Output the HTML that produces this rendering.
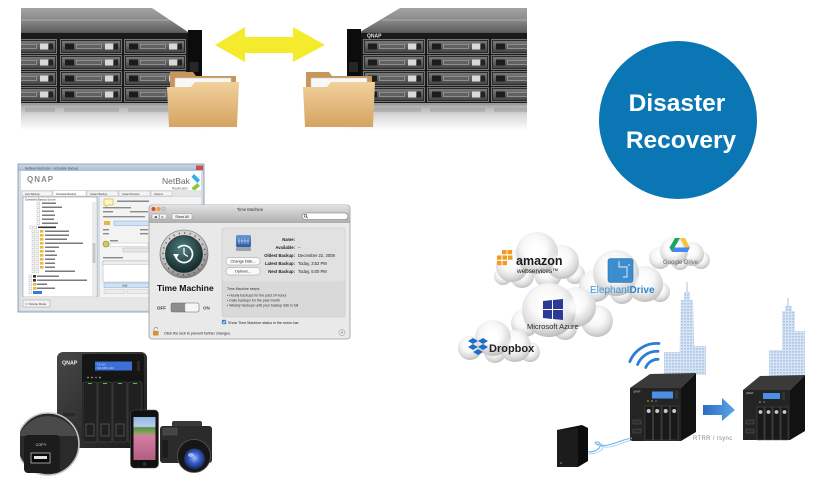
<!DOCTYPE html>
<html><head><meta charset="utf-8">
<style>
html,body{margin:0;padding:0;background:#fff;}
svg{display:block;}
text{font-family:"Liberation Sans",sans-serif;}
</style></head><body>
<svg width="824" height="493" viewBox="0 0 824 493" xmlns="http://www.w3.org/2000/svg">
<defs>
 <linearGradient id="topg" x1="0" y1="0" x2="0" y2="1"><stop offset="0" stop-color="#a3a3a3"/><stop offset="0.5" stop-color="#8a8a8a"/><stop offset="1" stop-color="#5e5e5e"/></linearGradient>
 <linearGradient id="bayg" x1="0" y1="0" x2="0" y2="1"><stop offset="0" stop-color="#7a7a7a"/><stop offset="1" stop-color="#474747"/></linearGradient>
 <linearGradient id="refl" x1="0" y1="0" x2="0" y2="1"><stop offset="0" stop-color="#a9a9a9"/><stop offset="0.4" stop-color="#d8d8d8"/><stop offset="1" stop-color="#ffffff"/></linearGradient>
 <linearGradient id="foldg" x1="0" y1="0" x2="0" y2="1"><stop offset="0" stop-color="#f1d19c"/><stop offset="1" stop-color="#d4a462"/></linearGradient>
 <linearGradient id="w7" x1="0" y1="0" x2="0" y2="1"><stop offset="0" stop-color="#c9d7e6"/><stop offset="1" stop-color="#a8bcd2"/></linearGradient>
 <linearGradient id="tmhead" x1="0" y1="0" x2="0" y2="1"><stop offset="0" stop-color="#e2e2e2"/><stop offset="1" stop-color="#b1b1b1"/></linearGradient>
 <radialGradient id="silv" cx="0.45" cy="0.35" r="0.65"><stop offset="0" stop-color="#f4f4f4"/><stop offset="0.7" stop-color="#c4c4c4"/><stop offset="1" stop-color="#7d7d7d"/></radialGradient>
 <radialGradient id="teal" cx="0.45" cy="0.35" r="0.7"><stop offset="0" stop-color="#517f80"/><stop offset="1" stop-color="#0d2222"/></radialGradient>
 <linearGradient id="nasg" x1="0" y1="0" x2="1" y2="1"><stop offset="0" stop-color="#474747"/><stop offset="1" stop-color="#1c1c1c"/></linearGradient>
 <radialGradient id="lens" cx="0.5" cy="0.45" r="0.6"><stop offset="0" stop-color="#9fc0ff"/><stop offset="0.4" stop-color="#3e63cf"/><stop offset="1" stop-color="#0b1740"/></radialGradient>
 <linearGradient id="screen" x1="0" y1="0" x2="0" y2="1"><stop offset="0" stop-color="#8db7e4"/><stop offset="0.22" stop-color="#b7d0ea"/><stop offset="0.25" stop-color="#5f8f4a"/><stop offset="0.38" stop-color="#86a65c"/><stop offset="0.42" stop-color="#d37fa2"/><stop offset="1" stop-color="#b45d83"/></linearGradient>
 <linearGradient id="barrow" x1="0" y1="0" x2="1" y2="0"><stop offset="0" stop-color="#2a6dbd"/><stop offset="1" stop-color="#5aa6ea"/></linearGradient>
 <pattern id="win" width="3" height="3" patternUnits="userSpaceOnUse"><rect width="3" height="3" fill="#d6e4f5"/><rect x="0" y="0" width="2" height="1.6" fill="#b0c8e6"/></pattern>
 <linearGradient id="diskg" x1="0" y1="0" x2="0" y2="1"><stop offset="0" stop-color="#6a9ad6"/><stop offset="1" stop-color="#2b5aa3"/></linearGradient>
 <radialGradient id="cg" cx="0.45" cy="0.36" r="0.66"><stop offset="0" stop-color="#ffffff"/><stop offset="0.45" stop-color="#f7f7f7"/><stop offset="0.78" stop-color="#dadada"/><stop offset="1" stop-color="#b9b9b9"/></radialGradient>
 <filter id="bl" x="-30%" y="-30%" width="160%" height="160%"><feGaussianBlur stdDeviation="2.5"/></filter>
 <clipPath id="lclip"><rect x="21" y="0" width="181" height="140"/></clipPath>
 <clipPath id="rclip"><rect x="347" y="0" width="180" height="140"/></clipPath>
 <clipPath id="uclip"><rect x="20" y="400" width="80" height="93"/></clipPath>
 <g id="bay">
  <rect x="0.5" y="0.5" width="61" height="14" fill="#2c2c2c" stroke="#8a8a8a" stroke-width="0.8"/>
  <rect x="2" y="2" width="58" height="11" fill="url(#bayg)"/>
  <rect x="5" y="4.5" width="9" height="6" fill="#1c1c1c"/>
  <rect x="16" y="5" width="26" height="5" fill="#8e8e8e"/>
  <rect x="17" y="6" width="24" height="3" fill="#4f4f4f" opacity="0.7"/>
  <rect x="45" y="4.5" width="8" height="6" fill="#d9d9d9"/>
  <rect x="54" y="4.5" width="4" height="6" fill="#222"/>
 </g>
 <g id="folder">
  <path d="M3,0 H26 L29,4 H69 V50 H3 Z" fill="#c8955a"/>
  <rect x="8" y="6" width="56" height="13" fill="#f7f7f7" stroke="#c9c9c9" stroke-width="0.5"/>
  <path d="M0,15 H24 L28,10 H72 L70,55 H2 Z" fill="url(#foldg)"/>
 </g>
</defs>

<rect width="824" height="493" fill="#fff"/>

<!-- ===== Left rack server ===== -->
<g clip-path="url(#lclip)">
 <polygon points="21,8 152,8 188,32 21,32" fill="url(#topg)"/>
 <line x1="21" y1="20" x2="170" y2="20" stroke="#b9b9b9" stroke-width="0.8"/>
 <rect x="21" y="32" width="170" height="72" fill="#1a1a1a"/>
 <line x1="21" y1="32.5" x2="190" y2="32.5" stroke="#6a6a6a" stroke-width="0.8"/>
 <use href="#bay" x="-5" y="39"/><use href="#bay" x="60" y="39"/><use href="#bay" x="124" y="39"/>
 <use href="#bay" x="-5" y="55"/><use href="#bay" x="60" y="55"/><use href="#bay" x="124" y="55"/>
 <use href="#bay" x="-5" y="71"/><use href="#bay" x="60" y="71"/><use href="#bay" x="124" y="71"/>
 <use href="#bay" x="-5" y="87"/><use href="#bay" x="60" y="87"/><use href="#bay" x="124" y="87"/>
 <rect x="188" y="30" width="14" height="74" fill="#0c0c0c"/>
 <rect x="189.5" y="62" width="9" height="10" rx="1" fill="#262626"/>
 <rect x="21" y="103" width="181" height="2" fill="#9a9a9a"/>
 <rect x="21" y="105" width="181" height="25" fill="url(#refl)"/>
 <g opacity="0.25"><rect x="25" y="108" width="30" height="4" fill="#777"/><rect x="64" y="108" width="55" height="4" fill="#777"/><rect x="128" y="108" width="55" height="4" fill="#777"/></g>
</g>

<!-- ===== Right rack server ===== -->
<g clip-path="url(#rclip)">
 <polygon points="400,8 527,8 527,32 360,32" fill="url(#topg)"/>
 <line x1="382" y1="20" x2="527" y2="20" stroke="#b9b9b9" stroke-width="0.8"/>
 <rect x="347" y="32" width="180" height="72" fill="#1a1a1a"/>
 <line x1="355" y1="32.5" x2="527" y2="32.5" stroke="#6a6a6a" stroke-width="0.8"/>
 <rect x="347" y="29" width="14" height="75" fill="#0c0c0c"/>
 <rect x="349" y="62" width="9" height="10" rx="1" fill="#262626"/>
 <text x="367" y="37.6" font-size="5" font-weight="bold" fill="#e6e6e6">QNAP</text>
 <use href="#bay" x="363" y="39"/><use href="#bay" x="427" y="39"/><use href="#bay" x="491" y="39"/>
 <use href="#bay" x="363" y="55"/><use href="#bay" x="427" y="55"/><use href="#bay" x="491" y="55"/>
 <use href="#bay" x="363" y="71"/><use href="#bay" x="427" y="71"/><use href="#bay" x="491" y="71"/>
 <use href="#bay" x="363" y="87"/><use href="#bay" x="427" y="87"/><use href="#bay" x="491" y="87"/>
 <rect x="347" y="103" width="180" height="2" fill="#9a9a9a"/>
 <rect x="347" y="105" width="180" height="25" fill="url(#refl)"/>
 <g opacity="0.25"><rect x="366" y="108" width="55" height="4" fill="#777"/><rect x="430" y="108" width="55" height="4" fill="#777"/><rect x="494" y="108" width="33" height="4" fill="#777"/></g>
</g>

<!-- yellow double arrow -->
<polygon points="215,45 245,27 245,37 293,37 293,27 325,45 293,62 293,53 245,53 245,62" fill="#f3eb2c"/>

<!-- folders -->
<use href="#folder" x="167" y="72"/>
<use href="#folder" x="303" y="72"/>

<!-- ===== Disaster Recovery circle ===== -->
<circle cx="678" cy="120" r="79" fill="#0a77b4"/>
<text x="677" y="111" text-anchor="middle" font-size="24.5" font-weight="bold" fill="#fff">Disaster</text>
<text x="681" y="148" text-anchor="middle" font-size="24.5" font-weight="bold" fill="#fff">Recovery</text>

<!-- ===== NetBak Replicator window ===== -->
<rect x="18" y="164" width="186" height="148" fill="#d3dde8" stroke="#7f8fa3" stroke-width="0.8"/>
<rect x="18.4" y="164.4" width="185.2" height="6.5" fill="url(#w7)"/>
<text x="25" y="169.4" font-size="3.2" fill="#556">NetBak Replicator - Schedule Backup</text>
<rect x="196" y="165.5" width="7" height="4.5" fill="#c9514a"/>
<rect x="21" y="171" width="180" height="19" fill="#fff"/>
<text x="27" y="182" font-size="8" font-weight="bold" fill="#8a8a8a" letter-spacing="1">QNAP</text>
<text x="162" y="184" font-size="8.5" fill="#6a6a6a">NetBak</text>
<text x="172" y="189.3" font-size="3.5" fill="#666">Replicator</text>
<polygon points="194,174 200,180 197.5,183 191.5,177" fill="#2fb0e0"/>
<polygon points="197.5,183 200,186 194,191 191.5,188" fill="#8dc63f"/>
<rect x="21" y="190" width="180" height="6" fill="#e4e4e4"/>
<g fill="#f4f4f4" stroke="#9a9a9a" stroke-width="0.3">
 <rect x="22" y="191" width="30" height="5"/><rect x="53" y="190.5" width="33" height="5.5" fill="#fff"/><rect x="87" y="191" width="31" height="5"/><rect x="119" y="191" width="31" height="5"/><rect x="151" y="191" width="21" height="5"/>
</g>
<g font-size="2.6" fill="#333"><text x="25" y="194.8">Auto Backup</text><text x="56" y="194.8">Schedule Backup</text><text x="90" y="194.8">Instant Backup</text><text x="122" y="194.8">Instant Restore</text><text x="154" y="194.8">Options</text></g>
<rect x="23" y="197" width="74" height="100" fill="#fff" stroke="#8a8a8a" stroke-width="0.5"/>
<text x="25" y="200.5" font-size="2.6" fill="#333">Scheduled Backup Source</text>
<rect x="92" y="202" width="4" height="94" fill="#ececec"/>
<rect x="92.5" y="243" width="3" height="20" fill="#c8c8c8"/>
<!-- tree rows -->
<g stroke="#888" stroke-width="0.3" fill="#fff">
 <rect x="37" y="202" width="2.6" height="2.6"/><rect x="37" y="206" width="2.6" height="2.6"/><rect x="37" y="210" width="2.6" height="2.6"/><rect x="37" y="214" width="2.6" height="2.6"/><rect x="37" y="218" width="2.6" height="2.6"/><rect x="37" y="222" width="2.6" height="2.6"/>
 <rect x="30" y="226" width="2.6" height="2.6"/><rect x="34" y="226" width="2.6" height="2.6"/>
 <rect x="32" y="230" width="2.6" height="2.6"/><rect x="32" y="234" width="2.6" height="2.6"/><rect x="32" y="238" width="2.6" height="2.6"/><rect x="32" y="242" width="2.6" height="2.6"/><rect x="32" y="246" width="2.6" height="2.6"/><rect x="32" y="250" width="2.6" height="2.6"/><rect x="32" y="254" width="2.6" height="2.6"/><rect x="32" y="258" width="2.6" height="2.6"/><rect x="32" y="262" width="2.6" height="2.6"/><rect x="32" y="266" width="2.6" height="2.6"/><rect x="32" y="270" width="2.6" height="2.6"/>
 <rect x="36" y="230" width="2.6" height="2.6"/><rect x="36" y="234" width="2.6" height="2.6"/><rect x="36" y="238" width="2.6" height="2.6"/><rect x="36" y="242" width="2.6" height="2.6"/><rect x="36" y="246" width="2.6" height="2.6"/><rect x="36" y="250" width="2.6" height="2.6"/><rect x="36" y="254" width="2.6" height="2.6"/><rect x="36" y="258" width="2.6" height="2.6"/><rect x="36" y="262" width="2.6" height="2.6"/><rect x="36" y="266" width="2.6" height="2.6"/><rect x="36" y="270" width="2.6" height="2.6"/>
 <rect x="29" y="275" width="2.6" height="2.6"/><rect x="29" y="279" width="2.6" height="2.6"/><rect x="29" y="283" width="2.6" height="2.6"/><rect x="29" y="287" width="2.6" height="2.6"/><rect x="29" y="291" width="2.6" height="2.6"/>
</g>
<g fill="#e9b73a">
 <rect x="40" y="230" width="3.5" height="2.6"/><rect x="40" y="234" width="3.5" height="2.6"/><rect x="40" y="238" width="3.5" height="2.6"/><rect x="40" y="242" width="3.5" height="2.6"/><rect x="40" y="246" width="3.5" height="2.6"/><rect x="40" y="250" width="3.5" height="2.6"/><rect x="40" y="254" width="3.5" height="2.6"/><rect x="40" y="258" width="3.5" height="2.6"/><rect x="40" y="262" width="3.5" height="2.6"/><rect x="40" y="266" width="3.5" height="2.6"/>
 <rect x="33" y="283" width="3.5" height="2.6"/><rect x="33" y="287" width="3.5" height="2.6"/>
</g>
<rect x="33" y="275" width="3" height="2.6" fill="#333"/><rect x="33" y="279" width="3" height="2.6" fill="#333"/>
<g fill="#7a7a7a">
 <rect x="42" y="202.5" width="14" height="1.5"/><rect x="42" y="206.5" width="20" height="1.5"/><rect x="42" y="210.5" width="12" height="1.5"/><rect x="42" y="214.5" width="13" height="1.5"/><rect x="42" y="218.5" width="12" height="1.5"/><rect x="42" y="222.5" width="16" height="1.5"/>
 <rect x="38" y="226.5" width="18" height="1.6" fill="#333"/>
 <rect x="45" y="230.5" width="24" height="1.5"/><rect x="45" y="234.5" width="24" height="1.5"/><rect x="45" y="238.5" width="22" height="1.5"/><rect x="45" y="242.5" width="38" height="1.5"/><rect x="45" y="246.5" width="14" height="1.5"/><rect x="45" y="250.5" width="10" height="1.5"/><rect x="45" y="254.5" width="12" height="1.5"/><rect x="45" y="258.5" width="10" height="1.5"/><rect x="45" y="262.5" width="10" height="1.5"/><rect x="45" y="266.5" width="10" height="1.5"/><rect x="45" y="270.5" width="30" height="1.5"/>
 <rect x="37" y="275.5" width="22" height="1.5"/><rect x="37" y="279.5" width="50" height="1.5"/><rect x="37" y="283.5" width="10" height="1.5"/><rect x="37" y="287.5" width="18" height="1.5"/>
</g>
<rect x="33" y="291" width="9" height="3" fill="#3a7bd5"/>
<!-- right panel of NetBak -->
<rect x="100" y="197" width="101" height="100" fill="#f3f3f3"/>
<path d="M104,199 h9 v6 h-5 l-2,2 v-2 h-2 z" fill="#fff3bf" stroke="#c9a200" stroke-width="0.5"/>
<g fill="#8a8a8a"><rect x="117" y="200.5" width="32" height="1.5"/><rect x="103" y="207" width="28" height="1.4"/><rect x="103" y="211" width="10" height="1.4"/><rect x="130" y="211" width="18" height="1.4"/><rect x="103" y="216" width="42" height="1.4"/><rect x="103" y="229" width="6" height="1.4"/><rect x="140" y="229" width="8" height="1.4"/><rect x="103" y="233" width="6" height="1.4"/><rect x="140" y="233" width="8" height="1.4"/><rect x="110" y="240" width="8" height="1.4"/><rect x="103" y="257" width="20" height="1.4"/></g>
<rect x="104" y="221" width="6" height="4" fill="#e9b73a"/>
<rect x="114" y="221" width="35" height="4.5" fill="#cfe3f7" stroke="#6d9fd1" stroke-width="0.4"/>
<circle cx="106" cy="244" r="3" fill="#e6c24b" stroke="#6a9a3b" stroke-width="0.6"/>
<rect x="110" y="243" width="38" height="3.5" fill="#fff" stroke="#999" stroke-width="0.3"/>
<rect x="123" y="248" width="26" height="4" fill="#e8e8e8" stroke="#888" stroke-width="0.3"/>
<rect x="103" y="261" width="46" height="21" fill="#fff" stroke="#999" stroke-width="0.4"/>
<rect x="103" y="261" width="46" height="3.5" fill="#eee" stroke="#999" stroke-width="0.3"/>
<rect x="104" y="283" width="45" height="4.5" fill="#cfe3f7" stroke="#6d9fd1" stroke-width="0.4"/>
<text x="122" y="286.7" font-size="3" fill="#333">Add</text>
<rect x="104" y="289.5" width="21" height="4" fill="#ececec" stroke="#aaa" stroke-width="0.3"/>
<rect x="127" y="289.5" width="21" height="4" fill="#ececec" stroke="#aaa" stroke-width="0.3"/>
<rect x="21" y="297" width="180" height="13" fill="#e6e6e6"/>
<rect x="23" y="300" width="27" height="7" fill="#f2f2f2" stroke="#888" stroke-width="0.4"/>
<text x="25" y="304.8" font-size="2.9" fill="#333">&lt;&lt; Simple Mode</text>

<!-- ===== Time Machine window ===== -->
<rect x="149" y="205" width="201" height="134" rx="3" fill="#e9e9e9" stroke="#9a9a9a" stroke-width="0.8"/>
<path d="M149.4,222 V208 a3,3 0 0 1 3,-3 H346.6 a3,3 0 0 1 3,3 V222 Z" fill="url(#tmhead)"/>
<line x1="149.4" y1="222.3" x2="349.6" y2="222.3" stroke="#8a8a8a" stroke-width="0.6"/>
<circle cx="153.5" cy="209" r="2" fill="#e0443e"/><circle cx="158.5" cy="209" r="2" fill="#e8a531"/><circle cx="163.5" cy="209" r="2" fill="#c9c9c9" stroke="#999" stroke-width="0.3"/>
<text x="250" y="211" font-size="4.2" text-anchor="middle" fill="#333">Time Machine</text>
<rect x="152" y="214" width="7" height="5" rx="1" fill="#f1f1f1" stroke="#888" stroke-width="0.4"/>
<rect x="159.5" y="214" width="7" height="5" rx="1" fill="#f1f1f1" stroke="#888" stroke-width="0.4"/>
<text x="154" y="218" font-size="3.4" fill="#333">◀</text><text x="161.5" y="218" font-size="3.4" fill="#999">▶</text>
<rect x="172" y="213.5" width="20" height="6" rx="1.5" fill="#f1f1f1" stroke="#888" stroke-width="0.4"/>
<text x="182" y="217.8" font-size="3.5" text-anchor="middle" fill="#222">Show All</text>
<rect x="302" y="213" width="46" height="6.5" rx="3.2" fill="#fff" stroke="#6f6f6f" stroke-width="0.6"/>
<circle cx="305.5" cy="215.8" r="1.4" fill="none" stroke="#333" stroke-width="0.6"/><line x1="306.5" y1="216.8" x2="307.8" y2="218.2" stroke="#333" stroke-width="0.6"/>
<!-- right panel -->
<rect x="222" y="228" width="123" height="89" rx="2" fill="#d9d9d9" stroke="#c2c2c2" stroke-width="0.5"/>
<rect x="222.3" y="228.3" width="122.4" height="53" rx="2" fill="#e1e1e1"/>
<rect x="236" y="235" width="15" height="12" rx="1.5" fill="url(#diskg)"/>
<g stroke="#e6eefa" stroke-width="0.5"><line x1="239" y1="238" x2="239" y2="244"/><line x1="242" y1="238" x2="242" y2="244"/><line x1="245" y1="238" x2="245" y2="244"/><line x1="248" y1="238" x2="248" y2="244"/><line x1="238" y1="241" x2="249" y2="241"/></g>
<rect x="236" y="247" width="15" height="4" rx="1" fill="#9aa3ad"/>
<rect x="226" y="257.5" width="34" height="7.5" rx="3.5" fill="#fafafa" stroke="#999" stroke-width="0.5"/>
<text x="243" y="262.6" font-size="3.8" text-anchor="middle" fill="#222">Change Disk...</text>
<rect x="226" y="267.5" width="34" height="7.5" rx="3.5" fill="#fafafa" stroke="#999" stroke-width="0.5"/>
<text x="243" y="272.6" font-size="3.8" text-anchor="middle" fill="#222">Options...</text>
<g font-size="4.2" fill="#222">
 <text x="295" y="241" text-anchor="end" font-weight="bold">Name:</text>
 <text x="295" y="249" text-anchor="end" font-weight="bold">Available:</text><text x="298" y="249">--</text>
 <text x="295" y="257" text-anchor="end" font-weight="bold">Oldest Backup:</text><text x="298" y="257">December 22, 2008</text>
 <text x="295" y="265" text-anchor="end" font-weight="bold">Latest Backup:</text><text x="298" y="265">Today, 3:52 PM</text>
 <text x="295" y="273" text-anchor="end" font-weight="bold">Next Backup:</text><text x="298" y="273">Today, 5:00 PM</text>
</g>
<g font-size="3.5" fill="#333">
 <text x="227" y="290">Time Machine keeps:</text>
 <text x="227" y="296.5">• Hourly backups for the past 24 hours</text>
 <text x="227" y="301.5">• Daily backups for the past month</text>
 <text x="227" y="306.5">• Weekly backups until your backup disk is full</text>
</g>
<!-- clock icon -->
<circle cx="184" cy="254" r="24" fill="url(#silv)" stroke="#6a6a6a" stroke-width="0.6"/>
<circle cx="184" cy="254" r="21" fill="none" stroke="#4a4a4a" stroke-width="1.6" stroke-dasharray="1 4.5"/>
<circle cx="184" cy="254" r="18.5" fill="url(#teal)" stroke="#2b2b2b" stroke-width="0.8"/>
<path d="M178,248 A8.5,8.5 0 1 1 176,257" fill="none" stroke="#fff" stroke-width="1.7"/>
<polygon points="173,254 179,254 176,259" fill="#fff"/>
<line x1="184" y1="254" x2="184" y2="248" stroke="#fff" stroke-width="1.2"/>
<line x1="184" y1="254" x2="188" y2="256.5" stroke="#fff" stroke-width="1.2"/>
<text x="157" y="291" font-size="8.6" font-weight="bold" fill="#111">Time Machine</text>
<text x="157" y="309.5" font-size="4.5" font-weight="bold" fill="#333">OFF</text>
<rect x="171" y="303" width="28" height="9" rx="1.5" fill="#8c8c8c" stroke="#666" stroke-width="0.5"/>
<rect x="185" y="303.3" width="13.7" height="8.4" rx="1.2" fill="#f7f7f7" stroke="#aaa" stroke-width="0.3"/>
<text x="203" y="309.5" font-size="4.5" font-weight="bold" fill="#2f5b5b">ON</text>
<rect x="222" y="320" width="4" height="4" rx="0.6" fill="#4a7fd0" stroke="#2f5fa8" stroke-width="0.3"/>
<path d="M222.8,322 l1,1.2 l1.6,-2.4" fill="none" stroke="#fff" stroke-width="0.6"/>
<text x="228" y="323.8" font-size="3.7" fill="#222">Show Time Machine status in the menu bar</text>
<rect x="153" y="331" width="5.5" height="4.5" fill="#d9902b"/>
<path d="M154,331 v-2 a1.7,1.7 0 0 1 3.4,0" fill="none" stroke="#888" stroke-width="0.6"/>
<text x="164" y="334.5" font-size="3.7" fill="#222">Click the lock to prevent further changes.</text>
<circle cx="342" cy="332.5" r="3" fill="#ececec" stroke="#888" stroke-width="0.5"/>
<text x="342" y="334.2" font-size="4" text-anchor="middle" fill="#6a3fa0" font-weight="bold">?</text>

<!-- ===== Bottom-left NAS and devices ===== -->
<rect x="57" y="352" width="90" height="96" rx="6" fill="url(#nasg)"/>
<rect x="82" y="354" width="62" height="88" rx="2" fill="#151515"/>
<text x="62" y="364.5" font-size="5.3" font-weight="bold" fill="#eee">QNAP</text>
<rect x="95" y="361.5" width="37" height="9" fill="#3c6fd8"/>
<text x="97" y="365.4" font-size="2.6" fill="#cfe0ff">TS-412</text><text x="97" y="369" font-size="2.6" fill="#cfe0ff">192.168.1.100</text>
<rect x="137" y="361" width="3" height="10" fill="#2a2a2a"/>
<circle cx="88" cy="377.5" r="0.9" fill="#4ec24e"/><circle cx="92" cy="377.5" r="0.9" fill="#f08a2a"/><circle cx="96" cy="377.5" r="0.9" fill="#3c8ae0"/><circle cx="100" cy="377.5" r="0.9" fill="#f08a2a"/>
<g fill="#202020" stroke="#4e4e4e" stroke-width="0.6">
 <rect x="83" y="382" width="14" height="60" rx="1"/><rect x="98" y="382" width="14" height="60" rx="1"/><rect x="113" y="382" width="14" height="60" rx="1"/><rect x="128" y="382" width="14" height="60" rx="1"/>
</g>
<g fill="#4ec24e"><rect x="88" y="383" width="4" height="1"/><rect x="103" y="383" width="4" height="1"/><rect x="118" y="383" width="4" height="1"/><rect x="133" y="383" width="4" height="1"/></g>
<g fill="none" stroke="#5a5a5a" stroke-width="0.8">
 <rect x="86" y="424" width="8" height="12"/><rect x="101" y="424" width="8" height="12"/><rect x="116" y="424" width="8" height="12"/><rect x="131" y="424" width="8" height="12"/>
</g>
<rect x="62" y="412" width="14" height="5" fill="#2a2a2a" stroke="#555" stroke-width="0.4"/>
<!-- round USB copy device -->
<g clip-path="url(#uclip)">
 <circle cx="48" cy="444" r="31" fill="#2a2a2a" stroke="#c4c4c4" stroke-width="1.6"/>
 <path d="M19,436 A31,31 0 0 1 77,436 Z" fill="#4a4a4a"/>
 <rect x="24" y="435" width="36" height="38" rx="4" fill="#1c1c1c"/>
 <text x="41" y="446" font-size="3.8" fill="#ddd" text-anchor="middle">COPY</text>
 <rect x="31" y="453" width="19" height="10" fill="#0a0a0a" stroke="#bdbdbd" stroke-width="0.8"/>
 <rect x="34" y="456" width="13" height="3" fill="#e0e0e0"/>
</g>
<!-- phone -->
<rect x="130.5" y="410" width="28" height="58" rx="4" fill="#111" stroke="#555" stroke-width="0.5"/>
<rect x="133.5" y="417" width="22" height="43" fill="url(#screen)"/>
<circle cx="144.5" cy="464" r="1.8" fill="#333"/>
<!-- camera -->
<rect x="172" y="421" width="30" height="8" rx="2" fill="#3a3a3a"/>
<rect x="160" y="426" width="52" height="37" rx="3" fill="#2b2b2b"/>
<rect x="163" y="428" width="14" height="7" fill="#444" stroke="#666" stroke-width="0.4"/>
<rect x="162" y="440" width="6" height="18" fill="#1c1c1c"/>
<circle cx="194" cy="456" r="16.5" fill="#161616" stroke="#555" stroke-width="0.8"/>
<circle cx="194.5" cy="459" r="10.5" fill="url(#lens)"/>
<ellipse cx="191" cy="455" rx="3" ry="2" fill="#dfe9ff" opacity="0.6"/>

<!-- ===== Clouds ===== -->
<!-- Google Drive cloud -->
<g fill="url(#cg)"><circle cx="701" cy="260" r="9"/><circle cx="660" cy="258" r="11"/><circle cx="680" cy="261" r="9"/><circle cx="692" cy="254" r="12"/><circle cx="674" cy="251" r="14"/></g>
<g fill="#fff" filter="url(#bl)" opacity="0.8"><circle cx="674" cy="249" r="6"/></g>
<!-- Amazon cloud -->
<g fill="url(#cg)"><circle cx="503" cy="276" r="9"/><circle cx="575" cy="274" r="10"/><circle cx="522" cy="276" r="12"/><circle cx="548" cy="274" r="14"/><circle cx="512" cy="266" r="16"/><circle cx="562" cy="262" r="17"/><circle cx="537" cy="253" r="21"/></g>
<g fill="#fff" filter="url(#bl)" opacity="0.8"><circle cx="537" cy="254" r="10"/><circle cx="558" cy="262" r="7"/></g>
<!-- ElephantDrive cloud -->
<g fill="url(#cg)"><circle cx="585" cy="294" r="9"/><circle cx="660" cy="292" r="10"/><circle cx="622" cy="292" r="12"/><circle cx="595" cy="286" r="16"/><circle cx="645" cy="284" r="18"/><circle cx="616" cy="273" r="23"/></g>
<g fill="#fff" filter="url(#bl)" opacity="0.8"><circle cx="616" cy="273" r="11"/><circle cx="641" cy="283" r="7"/></g>
<!-- Azure cloud -->
<g fill="url(#cg)"><circle cx="525" cy="323" r="14"/><circle cx="565" cy="328" r="12"/><circle cx="597" cy="321" r="16"/><circle cx="576" cy="307" r="20"/><circle cx="549" cy="310" r="27"/></g>
<g fill="#fff" filter="url(#bl)" opacity="0.8"><circle cx="549" cy="309" r="13"/><circle cx="575" cy="306" r="8"/></g>
<!-- Dropbox cloud -->
<g fill="url(#cg)"><circle cx="470" cy="348" r="12"/><circle cx="530" cy="352" r="10"/><circle cx="495" cy="352" r="11"/><circle cx="515" cy="346" r="16"/><circle cx="493" cy="338" r="18"/></g>
<g fill="#fff" filter="url(#bl)" opacity="0.8"><circle cx="493" cy="338" r="8"/><circle cx="513" cy="345" r="6"/></g>

<!-- cloud logos -->
<g fill="#f29b1d">
 <rect x="502" y="250" width="4.5" height="4.2"/><rect x="507.5" y="250" width="4.5" height="4.2"/>
 <rect x="497" y="255.5" width="4.5" height="4.2"/><rect x="502.5" y="255.5" width="4.5" height="4.2"/><rect x="508" y="255.5" width="4.5" height="4.2"/>
 <rect x="497" y="261" width="4.5" height="4.2"/><rect x="502.5" y="261" width="4.5" height="4.2"/>
</g>
<text x="516" y="265" font-size="12.5" font-weight="bold" fill="#1a1a1a">amazon</text>
<text x="517" y="273" font-size="6.4" fill="#1a1a1a">webservices™</text>
<rect x="608" y="258.5" width="25" height="24" rx="2.5" fill="#3b8dcf" stroke="#2a6ea8" stroke-width="0.6"/>
<path d="M619,261 v6 h8 v10 h-4" fill="none" stroke="#e9f3fb" stroke-width="0.9"/>
<circle cx="629" cy="265" r="0.8" fill="#e9f3fb"/>
<text x="590" y="293" font-size="10" fill="#3f95d8">Elephant<tspan font-weight="bold" fill="#2f86cc">Drive</tspan></text>
<polygon points="675,238 680,238 672,252 669.5,247.5" fill="#1fa463"/>
<polygon points="680,238 685,238 690,247.5 685,247.5" fill="#f6c33a"/>
<polygon points="672,252 674.5,247.5 690,247.5 687.5,252" fill="#4688f4"/>
<text x="663" y="264" font-size="6" fill="#666">Google Drive</text>
<g fill="#2b3b95">
 <polygon points="543,301 552,300 552,309 543,309"/><polygon points="553,300 563,299 563,309 553,309"/>
 <polygon points="543,310 552,310 552,319 543,318"/><polygon points="553,310 563,310 563,320 553,319"/>
</g>
<text x="527" y="329" font-size="7.5" fill="#2a2a2a">Microsoft Azure</text>
<g fill="#1f6ec6">
 <polygon points="468,341 473,338 478,341 473,344"/><polygon points="478,341 483,338 488,341 483,344"/>
 <polygon points="468,347 473,344 478,347 473,350"/><polygon points="478,347 483,344 488,347 483,350"/>
 <polygon points="473,352 478,349 483,352 478,355"/>
</g>
<text x="489" y="352" font-size="11" font-weight="bold" fill="#222">Dropbox</text>

<!-- ===== Buildings ===== -->
<line x1="687" y1="282" x2="687" y2="294" stroke="#aac3e2" stroke-width="1"/>
<rect x="684" y="292" width="6" height="8" fill="url(#win)"/>
<polygon points="681,300 693,300 695,375 679,375" fill="url(#win)"/>
<rect x="664" y="352" width="16" height="23" fill="url(#win)"/>
<rect x="694" y="346" width="12" height="29" fill="url(#win)"/>
<line x1="788" y1="298" x2="788" y2="308" stroke="#aac3e2" stroke-width="1"/>
<rect x="785" y="306" width="7" height="6" fill="url(#win)"/>
<rect x="782" y="311" width="13" height="67" fill="url(#win)"/>
<rect x="769" y="350" width="14" height="28" fill="url(#win)"/>
<rect x="795" y="331" width="10" height="47" fill="url(#win)"/>

<!-- wifi arcs -->
<g fill="none" stroke="#2b7ed3" stroke-width="2.8" stroke-linecap="round">
 <path d="M645.8,367.5 A13,13 0 0 1 658,359.3"/>
 <path d="M637.6,364.5 A21,21 0 0 1 658,351.3"/>
 <path d="M629.8,361.6 A29,29 0 0 1 659,343.5"/>
</g>

<!-- NAS 1 -->
<polygon points="630,388 650,374 696,373 681,388" fill="#3a3a3a"/>
<rect x="630" y="388" width="51" height="53" fill="#242424"/>
<polygon points="681,388 696,373 696,432 681,441" fill="#121212"/>
<text x="633" y="392.6" font-size="2.6" fill="#ccc">QNAP</text>
<rect x="652" y="391.5" width="21" height="7" fill="#4c90e6"/>
<rect x="675" y="391" width="3" height="8" fill="#333"/>
<circle cx="648" cy="401" r="0.8" fill="#f0a030"/><circle cx="652" cy="401" r="0.8" fill="#f0a030"/><circle cx="656" cy="401" r="0.8" fill="#3c8ae0"/>
<g fill="#191919" stroke="#555" stroke-width="0.5">
 <rect x="645" y="406" width="7.5" height="34"/><rect x="653.5" y="406" width="7.5" height="34"/><rect x="662" y="406" width="7.5" height="34"/><rect x="670.5" y="406" width="7.5" height="34"/>
</g>
<g fill="#c9c9c9"><circle cx="648.7" cy="411" r="2"/><circle cx="657.2" cy="411" r="2"/><circle cx="665.7" cy="411" r="2"/><circle cx="674.2" cy="411" r="2"/></g>
<rect x="633" y="420" width="8" height="4" fill="#2c2c2c" stroke="#666" stroke-width="0.4"/>
<rect x="633" y="429" width="8" height="4" fill="#2c2c2c" stroke="#666" stroke-width="0.4"/>

<!-- blue arrow -->
<polygon points="703,405 722,405 722,398 735,410 722,421 722,415 703,415" fill="url(#barrow)"/>
<text x="693" y="440" font-size="6" fill="#8a8a8a" letter-spacing="0.3">RTRR / rsync</text>

<!-- NAS 2 -->
<polygon points="743,390 760,376 805,375 790,390" fill="#3a3a3a"/>
<rect x="743" y="390" width="47" height="50" fill="#242424"/>
<polygon points="790,390 805,375 805,431 790,440" fill="#121212"/>
<text x="746" y="394" font-size="2.6" fill="#ccc">QNAP</text>
<rect x="763" y="393" width="17" height="6" fill="#4c90e6"/>
<rect x="782" y="392" width="3" height="8" fill="#333"/>
<circle cx="760" cy="402" r="0.8" fill="#f0a030"/><circle cx="764" cy="402" r="0.8" fill="#3c8ae0"/>
<g fill="#191919" stroke="#555" stroke-width="0.5">
 <rect x="757" y="407" width="7" height="33"/><rect x="765" y="407" width="7" height="33"/><rect x="773" y="407" width="7" height="33"/><rect x="781" y="407" width="7" height="33"/>
</g>
<g fill="#c9c9c9"><circle cx="760.5" cy="412" r="1.9"/><circle cx="768.5" cy="412" r="1.9"/><circle cx="776.5" cy="412" r="1.9"/><circle cx="784.5" cy="412" r="1.9"/></g>
<rect x="746" y="420" width="8" height="4" fill="#2c2c2c" stroke="#666" stroke-width="0.4"/>
<rect x="746" y="429" width="8" height="4" fill="#2c2c2c" stroke="#666" stroke-width="0.4"/>

<!-- external drive + cable -->
<polygon points="557,430 582,425 588,428 588,461 578,467 557,467" fill="#0c0c0c"/>
<polygon points="557,430 578,428 578,467 557,467" fill="#1c1c1c"/>
<circle cx="561" cy="463" r="0.8" fill="#f08a2a"/>
<path d="M588,452 C600,452 603,444 598,442 C592,441 596,447 608,445 C618,443 624,439 632,438" fill="none" stroke="#6fb0e6" stroke-width="1.1"/>
<path d="M588,454 C602,454 606,446 601,444 C596,443 600,448 610,447 C620,445 626,441 632,440" fill="none" stroke="#9dcaf0" stroke-width="0.8"/>
</svg>
</body></html>
